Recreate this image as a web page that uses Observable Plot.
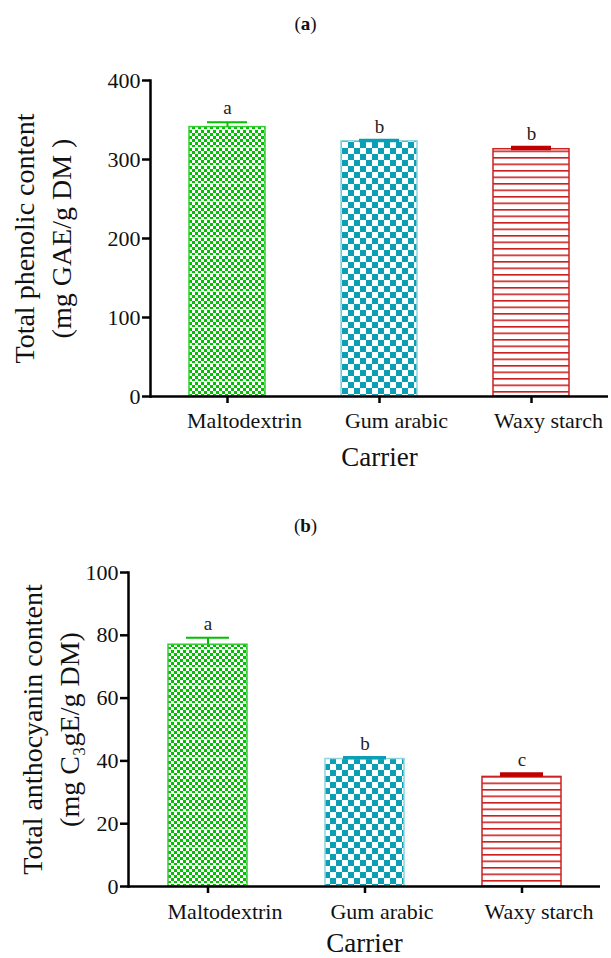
<!DOCTYPE html>
<html><head><meta charset="utf-8">
<script src="https://cdn.jsdelivr.net/npm/d3@7"></script>
<script src="https://cdn.jsdelivr.net/npm/@observablehq/plot@0.6"></script>
<style>
body{margin:0;background:#fff;width:611px;height:958px;position:relative;overflow:hidden;font-family:"Liberation Serif","Times New Roman",serif;color:#111}
.title{position:absolute;left:0;width:611px;text-align:center;font-size:19px;line-height:20px}
.panel{position:absolute;left:0}
#defs{position:absolute;width:0;height:0}
</style></head><body>
<svg id="defs" width="0" height="0">
  <defs>
    <pattern id="pMalto" width="6" height="18" patternUnits="userSpaceOnUse">
      <rect width="6" height="18" fill="#00c000"/>
      <rect x="0" y="0" width="3" height="3" fill="#fff"/><rect x="3" y="3" width="3" height="3" fill="#fff"/>
      <rect x="0" y="6" width="3" height="3" fill="#fff"/><rect x="3" y="9" width="3" height="3" fill="#fff"/>
      <rect x="0" y="12" width="3" height="3" fill="#fff"/><rect x="3" y="15" width="3" height="3" fill="#fff"/>
      <rect x="0" y="17" width="6" height="1" fill="#fff"/>
    </pattern>
    <pattern id="pGum" width="12" height="12" patternUnits="userSpaceOnUse">
      <rect width="12" height="12" fill="#0a9fb5"/>
      <rect x="0" y="0" width="6" height="6" fill="#fff"/>
      <rect x="6" y="6" width="6" height="6" fill="#fff"/>
    </pattern>
    <pattern id="pWaxy" width="8" height="6.5" patternUnits="userSpaceOnUse">
      <rect width="8" height="6.5" fill="#fff"/>
      <rect x="0" y="0" width="8" height="1.6" fill="#cc1f1f"/>
    </pattern>
  </defs>
</svg>
<div class="title" style="top:14px">(<b>a</b>)</div>
<div class="panel" id="pa" style="top:40px"></div>
<div class="title" style="top:516px">(<b>b</b>)</div>
<div class="panel" id="pb" style="top:542px"></div>
<script>
// ---- data ----
const carriers = ["Maltodextrin", "Gum arabic", "Waxy starch"];
const phenolic = [341, 323, 313];
const phenolicErr = [6, 1, 1.5];
const phenolicLetters = ["a", "b", "b"];
const anthocyanin = [77.0, 40.6, 34.9];
const anthocyaninErr = [2.2, 0.4, 0.8];
const anthocyaninLetters = ["a", "b", "c"];
const yTicksA = [0, 100, 200, 300, 400];
const yTicksB = [0, 20, 40, 60, 80, 100];

// ---- styles ----
const fillOf = {"Maltodextrin": "url(#pMalto)", "Gum arabic": "url(#pGum)", "Waxy starch": "url(#pWaxy)"};
const strokeOf = {"Maltodextrin": "#33cc33", "Gum arabic": "#8fd3df", "Waxy starch": "#cc2222"};
const capOf = {"Maltodextrin": "#00c000", "Gum arabic": "#0a9fb5", "Waxy starch": "#c00000"};
const capW = {"Maltodextrin": 2, "Gum arabic": 3.5, "Waxy starch": 4.5};

function panel({values, errs, letters, ticks, domain, ylabel, marginLeft, marginRight, marginTop, marginBottom, height, labelDx, carrierDy, xTextPad}) {
  const data = carriers.map((c, i) => ({carrier: c, value: values[i], err: errs[i], letter: letters[i]}));
  return Plot.plot({
    width: 611, height, marginLeft, marginRight, marginTop, marginBottom,
    style: {fontFamily: "'Liberation Serif','Times New Roman',serif", fontSize: "22px", color: "#111", background: "transparent", overflow: "visible"},
    x: {domain: carriers, paddingInner: 0.5, paddingOuter: 0.25, axis: null},
    y: {domain, axis: null},
    color: {type: "identity"},
    marks: [
      Plot.barY(data, {x: "carrier", y: "value", fill: d => fillOf[d.carrier], stroke: d => strokeOf[d.carrier], strokeWidth: 1.5}),
      Plot.ruleX(data, {x: "carrier", y1: "value", y2: d => d.value + d.err, stroke: d => capOf[d.carrier], strokeWidth: 2}),
      Plot.tickY(data, {x: "carrier", y: d => d.value + d.err, stroke: d => capOf[d.carrier], strokeWidth: d => capW[d.carrier], insetLeft: 18, insetRight: 18}),
      Plot.text(data, {x: "carrier", y: d => d.value + d.err, text: "letter", dy: -8, lineAnchor: "bottom", fontSize: 19, fill: "#222"}),
      Plot.ruleY([0], {stroke: "#000", strokeWidth: 2.5}),
      Plot.frame({anchor: "left", stroke: "#000", strokeWidth: 2.5}),
      Plot.axisY({ticks, tickSize: 8, tickPadding: 2, strokeWidth: 2.5, stroke: "#000", text: null, label: null}),
      Plot.text(ticks, {y: d => d, frameAnchor: "left", textAnchor: "end", lineAnchor: "middle", dx: -10, fontSize: 22, fill: "#111", text: d => String(d)}),
      Plot.axisX({tickSize: 7, strokeWidth: 2.5, stroke: "#000", text: null, label: null}),
      Plot.axisX({tickSize: 0, tickPadding: xTextPad, dx: 17, fontSize: 22, fill: "#111", label: null}),
      Plot.text(["Carrier"], {frameAnchor: "bottom", lineAnchor: "middle", textAnchor: "middle", dy: carrierDy, fontSize: 27, fill: "#111", text: d => d}),
      Plot.text([ylabel], {frameAnchor: "left", textAnchor: "middle", lineAnchor: "middle", rotate: -90, dx: labelDx, fontSize: 28, lineHeight: 1.35, fill: "#111", text: d => d})
    ]
  });
}

document.getElementById("pa").append(panel({
  values: phenolic, errs: phenolicErr, letters: phenolicLetters, ticks: yTicksA, domain: [0, 400],
  ylabel: "Total phenolic content\n(mg GAE/g DM )",
  marginLeft: 150, marginRight: 3, marginTop: 40, marginBottom: 84, height: 440,
  labelDx: -110, carrierDy: 61, xTextPad: 16
}));
document.getElementById("pb").append(panel({
  values: anthocyanin, errs: anthocyaninErr, letters: anthocyaninLetters, ticks: yTicksB, domain: [0, 100],
  ylabel: "Total anthocyanin content\n(mg C\u2083gE/g DM)",
  marginLeft: 128, marginRight: 11, marginTop: 30, marginBottom: 72, height: 416,
  labelDx: -80, carrierDy: 57, xTextPad: 17
}));
</script>
</body></html>
